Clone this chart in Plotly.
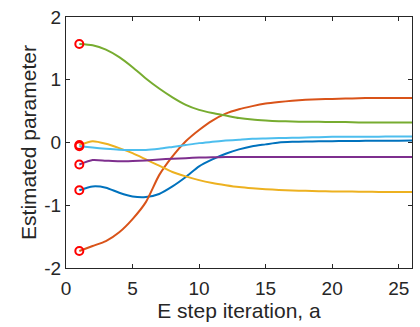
import plotly.graph_objects as go

iterations = list(range(1, 27))

blue = [-0.76, -0.70, -0.72, -0.80, -0.86, -0.87, -0.82, -0.70, -0.55, -0.38,
        -0.27, -0.18, -0.11, -0.06, -0.03, 0.00, 0.01, 0.015, 0.02, 0.02,
        0.025, 0.025, 0.027, 0.028, 0.028, 0.03]
orange = [-1.73, -1.65, -1.57, -1.43, -1.22, -0.95, -0.52, -0.22, 0.02, 0.20,
          0.35, 0.46, 0.53, 0.58, 0.62, 0.645, 0.665, 0.68, 0.69, 0.695,
          0.70, 0.705, 0.71, 0.71, 0.71, 0.71]
yellow = [-0.04, 0.02, -0.02, -0.09, -0.17, -0.27, -0.37, -0.47, -0.54, -0.60,
          -0.645, -0.68, -0.71, -0.73, -0.745, -0.755, -0.765, -0.77, -0.775, -0.78,
          -0.78, -0.785, -0.785, -0.79, -0.79, -0.79]
purple = [-0.35, -0.28, -0.29, -0.30, -0.295, -0.285, -0.27, -0.26, -0.25, -0.24,
          -0.235, -0.232, -0.23, -0.23, -0.23, -0.23, -0.23, -0.23, -0.23, -0.23,
          -0.23, -0.23, -0.23, -0.23, -0.23, -0.23]
green = [1.57, 1.55, 1.48, 1.36, 1.20, 1.02, 0.86, 0.72, 0.60, 0.52,
         0.47, 0.43, 0.39, 0.365, 0.35, 0.34, 0.335, 0.33, 0.33, 0.325,
         0.325, 0.32, 0.32, 0.32, 0.32, 0.32]
lightblue = [-0.06, -0.08, -0.10, -0.115, -0.12, -0.12, -0.10, -0.07, -0.04, -0.01,
             0.01, 0.03, 0.045, 0.06, 0.065, 0.07, 0.075, 0.08, 0.085, 0.09,
             0.09, 0.092, 0.093, 0.094, 0.095, 0.095]

series = [blue, orange, yellow, purple, green, lightblue]
colors = ["#0072BD", "#D95319", "#EDB120", "#7E2F8E", "#77AC30", "#4DBEEE"]

x_ticks = [0, 5, 10, 15, 20, 25]
y_ticks = [-2, -1, 0, 1, 2]
y_ticktext = ["-2", "-1", "0", "1", "2"]

fig = go.Figure()
for s, c in zip(series, colors):
    fig.add_trace(go.Scatter(x=iterations, y=s, mode="lines",
                             line=dict(color=c, width=2, shape="spline", smoothing=0.6),
                             showlegend=False))

fig.add_trace(go.Scatter(x=[iterations[0]] * len(series), y=[s[0] for s in series],
                         mode="markers",
                         marker=dict(symbol="circle-open", size=8, color="#FF0000",
                                     line=dict(color="#FF0000", width=2)),
                         showlegend=False))

font_family = "Liberation Sans, Arial, sans-serif"
axis_common = dict(showline=True, linecolor="#262626", linewidth=1, mirror="ticks",
                   ticks="inside", ticklen=4, tickcolor="#262626", tickwidth=1,
                   showgrid=False, zeroline=False,
                   tickfont=dict(family=font_family, size=19, color="#262626"))

fig.update_layout(
    width=420, height=327,
    margin=dict(l=66, r=7, t=15, b=59),
    paper_bgcolor="white", plot_bgcolor="white",
    xaxis=dict(range=[0, 26], tickvals=x_ticks, ticklabelstandoff=3,
               title=dict(text="E step iteration, a", standoff=5,
                          font=dict(family=font_family, size=21, color="#262626")),
               **axis_common),
    yaxis=dict(range=[-2, 2], tickvals=y_ticks, ticktext=y_ticktext,
               title=dict(text="Estimated parameter", standoff=1,
                          font=dict(family=font_family, size=21, color="#262626")),
               **axis_common),
)

fig.write_html("out.html")
